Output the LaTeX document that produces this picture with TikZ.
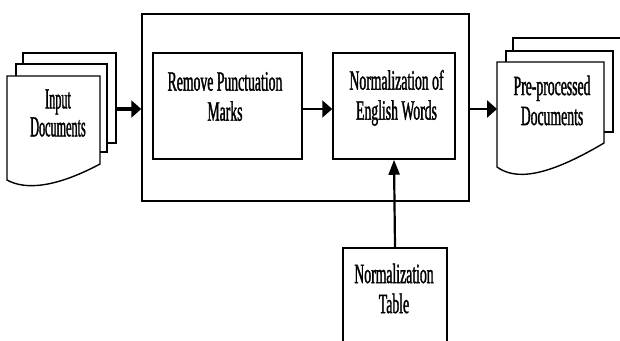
\documentclass[tikz,border=0pt]{standalone}
\usepackage{fontspec}
\newfontfamily\tnr{Liberation Serif}[FakeStretch=0.49,FakeBold=1.2]
\newfontfamily\tnrn{Liberation Serif}[FakeStretch=0.42,FakeBold=1.2]
\usetikzlibrary{arrows.meta}
\begin{document}
\begin{tikzpicture}[x=1pt,y=-1pt,line join=miter,
  box/.style={draw,line width=1.5pt,fill=white,inner sep=0pt},
  page/.style={draw,line width=1.4pt,fill=white},
  txt/.style={font=\tnr\fontsize{28}{30}\selectfont,align=center,inner sep=0pt},
  txtn/.style={font=\tnrn\fontsize{29}{28}\selectfont,align=center,inner sep=0pt},
  harrow/.style={line width=#1,-{Triangle[length=10pt,width=17pt]}},
  varrow/.style={line width=2.2pt,-{Triangle[length=15pt,width=11pt]}}]
\useasboundingbox (0,0) rectangle (620,340);

% main frame and process boxes
\node[box,minimum width=327pt,minimum height=187pt] (outer) at (305.5,107.5) {};
\node[box,minimum width=149pt,minimum height=106pt] (rp) at (227.5,106) {};
\node[box,minimum width=122pt,minimum height=106pt] (ne) at (394,106) {};
\node[box,minimum width=104pt,minimum height=112pt] (nt) at (395,304) {};

\node[txt] (rpt) at (225,96.5) {Remove Punctuation\\Marks};
\node[txt] (net) at (396.5,97.8) {Normalization of\\English Words};
\node[txt] (ntt) at (394,288.5) {Normalization\\Table};

% input documents (stack)
\draw[page] (23,64) -- (23,53) -- (116,53) -- (116,143) -- (107,143);
\draw[page] (16,76) -- (16,64) -- (107,64) -- (107,152) -- (100,152);
\draw[page] (7,76) -- (100,76) -- (100,164) .. controls (55,188) and (25,190) .. (7,180) -- cycle;
\node[txtn] (int) at (58,113) {Input\\Documents};
\coordinate (inR) at (116,109);

% pre-processed documents (stack)
\draw[page] (513,51) -- (513,38) -- (640,38);
\draw[page] (506,62) -- (506,51) -- (613,51) -- (613,132) -- (604,132);
\draw[page] (497,62) -- (604,62) -- (604,143) .. controls (545,178) and (515,180) .. (497,167) -- cycle;
\node[txt] (ppt) at (552,100.5) {Pre-processed\\Documents};
\coordinate (outL) at (497,109);

% connectors
\draw[harrow=4pt] (inR) -- (outer.west |- inR);
\draw[harrow=2.6pt] (outer.east |- outL) -- (outL);
\draw[harrow=2.2pt] ([yshift=-3pt]rp.east) -- ([yshift=-3pt]ne.west);
\draw[varrow] (nt.north) -- (ne.south);
\end{tikzpicture}
\end{document}
